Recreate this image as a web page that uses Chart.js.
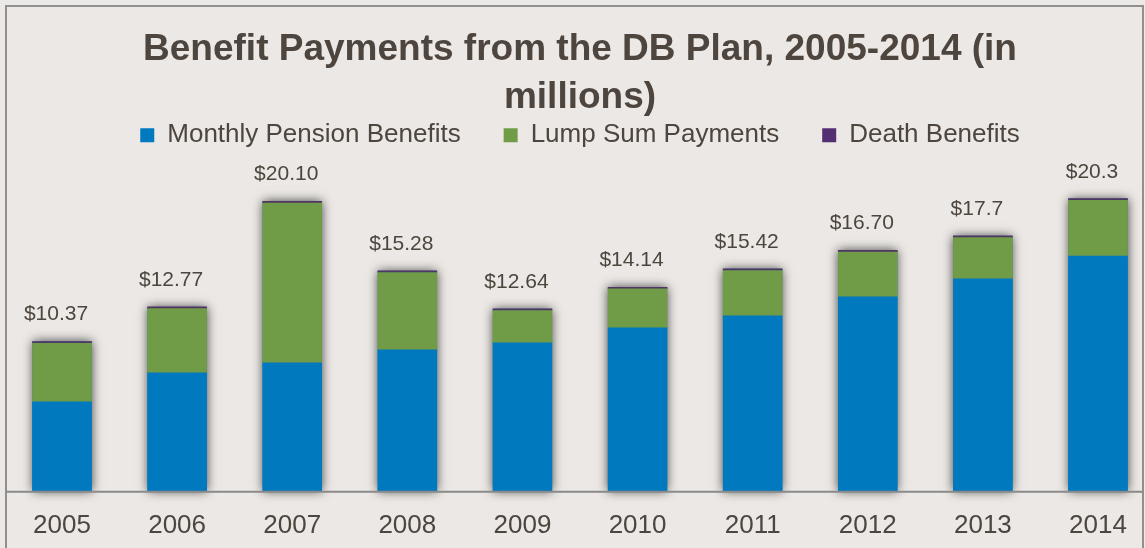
<!DOCTYPE html>
<html>
<head>
<meta charset="utf-8">
<script src="https://cdn.jsdelivr.net/npm/chart.js@4"></script>
<style>
  html, body { margin: 0; padding: 0; background: #ebe8e5; }
  #wrap { position: relative; width: 1145px; height: 548px; }
</style>
</head>
<body>
<div id="wrap"><canvas id="chart"></canvas></div>
<script>
// Benefit payments by year, in millions of dollars
var years = ['2005', '2006', '2007', '2008', '2009', '2010', '2011', '2012', '2013', '2014'];
var monthlyPension = [6.18, 8.19, 8.89, 9.79, 10.28, 11.32, 12.15, 13.47, 14.72, 16.30];
var lumpSum = [4.07, 4.46, 11.09, 5.37, 2.24, 2.70, 3.15, 3.11, 2.86, 3.88];
var deathBenefits = [0.12, 0.12, 0.12, 0.12, 0.12, 0.12, 0.12, 0.12, 0.12, 0.12];
var totalLabels = ['$10.37', '$12.77', '$20.10', '$15.28', '$12.64', '$14.14', '$15.42', '$16.70', '$17.7', '$20.3'];

var textColor = '#4d453e';
var fontFamily = '"Liberation Sans", Arial, sans-serif';

Chart.defaults.font.family = fontFamily;
Chart.defaults.color = textColor;

// frame, background and the shadow behind each stacked column
var decor = {
  id: 'decor',
  beforeDraw: function (chart) {
    var ctx = chart.ctx;
    ctx.save();
    ctx.fillStyle = '#ebe8e5';
    ctx.fillRect(0, 0, chart.width, chart.height);
    ctx.strokeStyle = '#8f8f8f';
    ctx.lineWidth = 2;
    ctx.beginPath();
    ctx.moveTo(6, chart.height);
    ctx.lineTo(6, 6);
    ctx.lineTo(chart.width - 2, 6);
    ctx.lineTo(chart.width - 2, chart.height);
    ctx.stroke();
    ctx.restore();
  },
  beforeDatasetsDraw: function (chart) {
    var ctx = chart.ctx;
    var bottomMeta = chart.getDatasetMeta(0);
    var topMeta = chart.getDatasetMeta(chart.data.datasets.length - 1);
    ctx.save();
    ctx.shadowColor = 'rgba(0, 0, 0, 0.7)';
    ctx.shadowBlur = 10;
    ctx.fillStyle = '#0079bf';
    topMeta.data.forEach(function (bar, i) {
      var base = bottomMeta.data[i].base;
      ctx.fillRect(bar.x - bar.width / 2, bar.y, bar.width, base - bar.y);
    });
    ctx.restore();
  },
  afterDatasetsDraw: function (chart) {
    var ctx = chart.ctx;
    var topMeta = chart.getDatasetMeta(chart.data.datasets.length - 1);
    var y0 = chart.scales.y.getPixelForValue(0) + 1;
    ctx.save();
    // baseline across the whole frame
    ctx.strokeStyle = '#8a8a8a';
    ctx.lineWidth = 2;
    ctx.beginPath();
    ctx.moveTo(6, y0);
    ctx.lineTo(chart.width - 2, y0);
    ctx.stroke();
    // totals above each column
    ctx.fillStyle = textColor;
    ctx.font = '21px ' + fontFamily;
    ctx.textAlign = 'center';
    ctx.textBaseline = 'alphabetic';
    topMeta.data.forEach(function (bar, i) {
      ctx.fillText(totalLabels[i], bar.x - 6, bar.y - 21);
    });
    ctx.restore();
  }
};

var ctx = document.getElementById('chart').getContext('2d');
var chart = new Chart(ctx, {
  type: 'bar',
  data: {
    labels: years,
    datasets: [{
      label: 'Monthly Pension Benefits',
      data: monthlyPension,
      backgroundColor: '#0079bf'
    }, {
      label: 'Lump Sum Payments',
      data: lumpSum,
      backgroundColor: '#709b47'
    }, {
      label: 'Death Benefits',
      data: deathBenefits,
      backgroundColor: '#4f3663'
    }]
  },
  options: {
    responsive: true,
    maintainAspectRatio: false,
    animation: false,
    events: [],
    layout: { padding: { left: 62, right: 47, top: 5, bottom: -4 } },
    datasets: {
      bar: { barThickness: 59, clip: false, borderWidth: 0 }
    },
    plugins: {
      title: {
        display: true,
        text: ['Benefit Payments from the DB Plan, 2005-2014 (in', 'millions)'],
        color: textColor,
        font: { size: 37, weight: 'bold', lineHeight: 1.3 },
        padding: { top: 21, bottom: -43 }
      },
      legend: {
        labels: {
          boxWidth: 14,
          boxHeight: 14,
          padding: 43,
          color: textColor,
          font: { size: 26 },
          generateLabels: function (chart) {
            var items = Chart.defaults.plugins.legend.labels.generateLabels(chart);
            items[2].fillStyle = '#532f72';
            return items;
          }
        }
      },
      tooltip: { enabled: false }
    },
    scales: {
      x: {
        stacked: true,
        offset: false,
        grid: { display: false },
        border: { display: false },
        ticks: { color: textColor, font: { size: 26 }, padding: 11, maxRotation: 0 }
      },
      y: {
        stacked: true,
        display: false,
        min: 0,
        max: 23.1
      }
    }
  },
  plugins: [decor]
});
</script>
</body>
</html>
